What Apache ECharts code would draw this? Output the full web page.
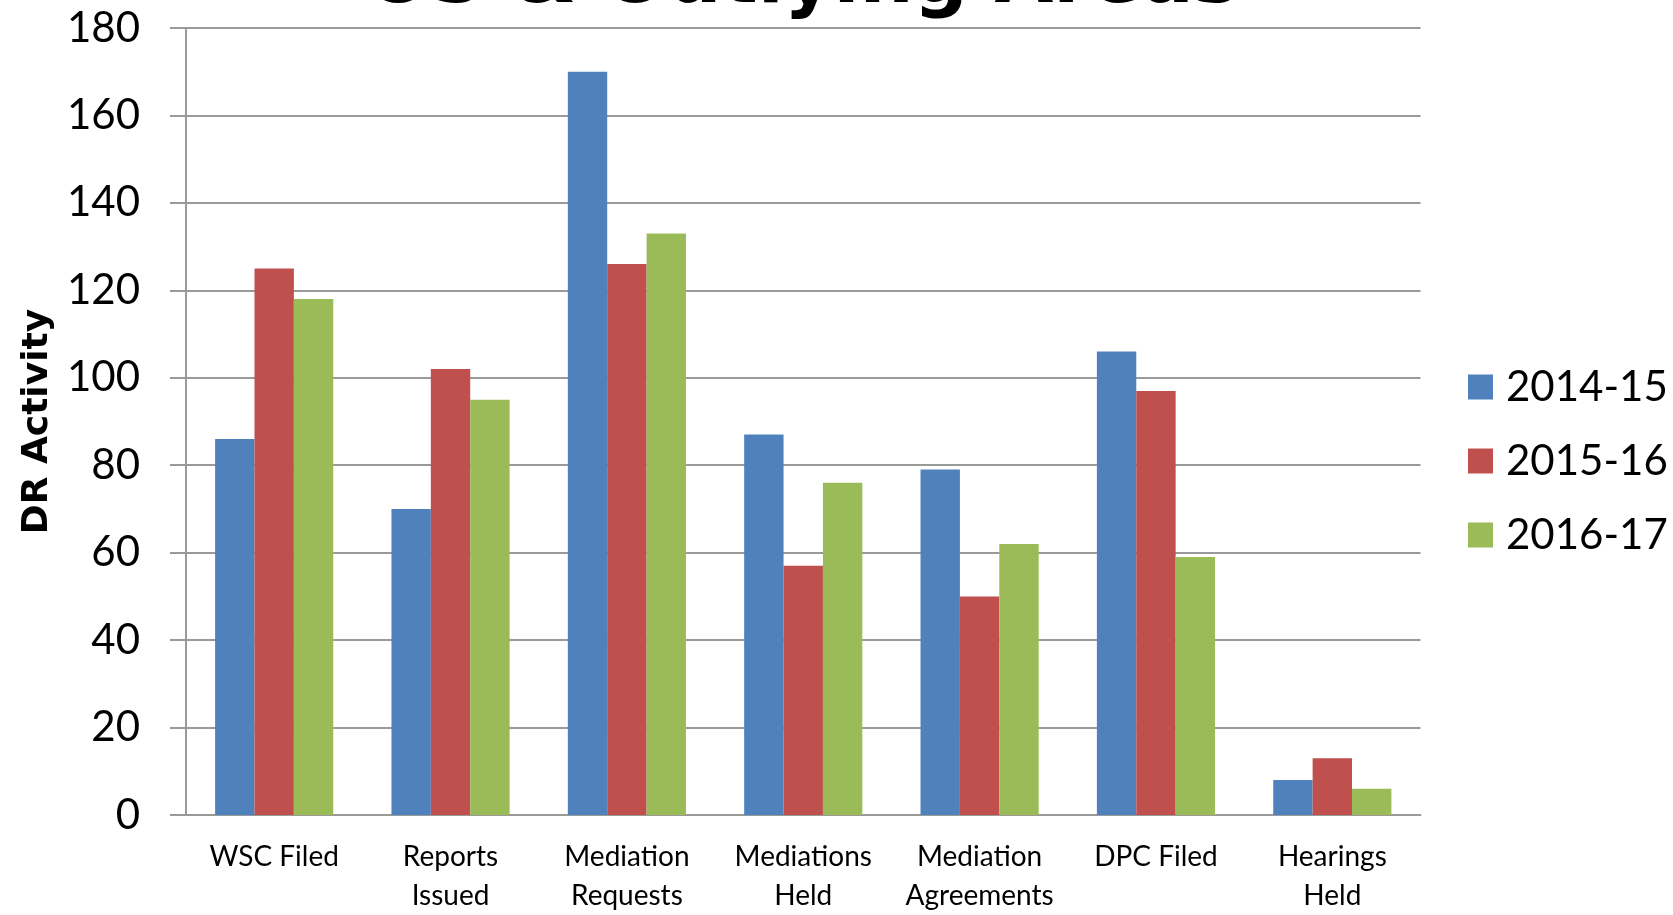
<!DOCTYPE html>
<html>
<head>
<meta charset="utf-8">
<script src="https://cdn.jsdelivr.net/npm/echarts@6/dist/echarts.min.js"></script>
<style>
html,body{margin:0;padding:0;background:#fff;}
#chart{width:1673px;height:915px;}
</style>
</head>
<body>
<div id="chart"></div>
<script>
const titleText = 'US & Outlying Areas';
const yAxisName = 'DR Activity';
const categories = ['WSC Filed', 'Reports\nIssued', 'Mediation\nRequests', 'Mediations\nHeld', 'Mediation\nAgreements', 'DPC Filed', 'Hearings\nHeld'];
const seriesNames = ['2014-15', '2015-16', '2016-17'];
const values2014 = [86, 70, 170, 87, 79, 106, 8];
const values2015 = [125, 102, 126, 57, 50, 97, 13];
const values2016 = [118, 95, 133, 76, 62, 59, 6];
const colors = ['#4F81BD', '#C0504D', '#9BBB59'];

const chart = echarts.init(document.getElementById('chart'));
const gridColor = '#9a9a9a';
chart.setOption({
  animation: false,
  backgroundColor: '#ffffff',
  graphic: [{
    type: 'text',
    x: 803,
    y: -56,
    style: {
      text: titleText,
      font: 'bold 76px "DejaVu Sans"',
      align: 'center',
      verticalAlign: 'top',
      fill: '#000',
      shadowColor: 'rgba(0,0,0,0.45)',
      shadowBlur: 6,
      shadowOffsetX: 3,
      shadowOffsetY: 3
    }
  }],
  legend: {
    orient: 'vertical',
    left: 1463,
    top: 361,
    itemWidth: 25,
    itemHeight: 25,
    itemGap: 32,
    icon: 'rect',
    data: seriesNames,
    textStyle: { fontFamily: 'Lato', fontSize: 42, color: '#000', lineHeight: 42, padding: [0, 0, 0, 8] }
  },
  grid: { left: 186, right: 1673 - 1420.5, top: 28, bottom: 94.5, containLabel: false },
  xAxis: {
    type: 'category',
    data: categories,
    axisLine: { show: true, lineStyle: { color: gridColor, width: 2 } },
    axisTick: { show: false },
    axisLabel: { fontFamily: 'Lato', fontSize: 28, color: '#000', lineHeight: 39, margin: 22, interval: 0 },
  },
  yAxis: {
    type: 'value',
    min: 0, max: 180, interval: 20,
    name: yAxisName,
    nameLocation: 'middle',
    nameRotate: 90,
    nameGap: 130,
    nameTextStyle: { fontFamily: 'DejaVu Sans', fontWeight: 'bold', fontSize: 36, color: '#000' },
    axisLine: { show: true, lineStyle: { color: gridColor, width: 2 } },
    axisTick: { show: true, inside: false, length: 16, lineStyle: { color: gridColor, width: 2 } },
    splitLine: { show: true, lineStyle: { color: gridColor, width: 2 } },
    axisLabel: { fontFamily: 'Lato', fontSize: 42, color: '#000', margin: 46 }
  },
  series: [
    { name: seriesNames[0], type: 'bar', data: values2014, itemStyle: { color: colors[0] }, barGap: '0%', barCategoryGap: '33%' },
    { name: seriesNames[1], type: 'bar', data: values2015, itemStyle: { color: colors[1] }, barGap: '0%', barCategoryGap: '33%' },
    { name: seriesNames[2], type: 'bar', data: values2016, itemStyle: { color: colors[2] }, barGap: '0%', barCategoryGap: '33%' }
  ]
});
</script>
</body>
</html>
